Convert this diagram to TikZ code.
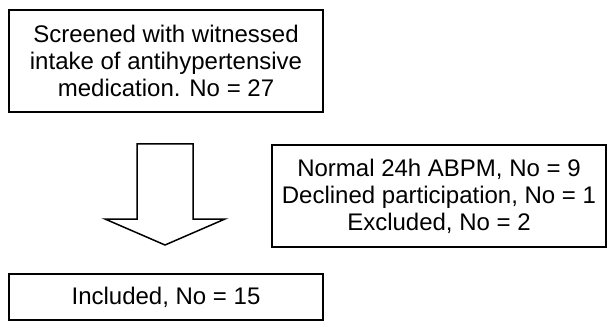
\documentclass[tikz,border=0pt]{standalone}
\usepackage{fontspec}
\setmainfont{Liberation Sans}
\tikzset{
  flowbox/.style={draw, line width=1.8pt, align=center, inner sep=0pt,
    font=\fontsize{24}{27}\selectfont},
}
\begin{document}
\begin{tikzpicture}[x=1pt,y=1pt,yscale=-1,xscale=1]
                \useasboundingbox (0,0) rectangle (614,321);
                % Text Node
                \node [flowbox, minimum width=314pt, minimum height=102pt] (screened) at (166,61)
                  {Screened with witnessed\\intake of antihypertensive\\medication. No = 27};
                % Text Node
                \node [flowbox, minimum width=334pt, minimum height=102pt] (excluded) at (439,196)
                  {Normal 24h ABPM, No = 9\\Declined participation, No = 1\\Excluded, No = 2};
                % Text Node
                \node [flowbox, minimum width=314pt, minimum height=46pt] (included) at (166,297)
                  {Included, No = 15};
                %Shape: Down Arrow
                \draw [line width=1.5pt, line join=miter] (137,144) -- (193,144) -- (193,219) -- (225,219) -- (165,245) -- (105,219) -- (137,219) -- cycle ;
\end{tikzpicture}
\end{document}
